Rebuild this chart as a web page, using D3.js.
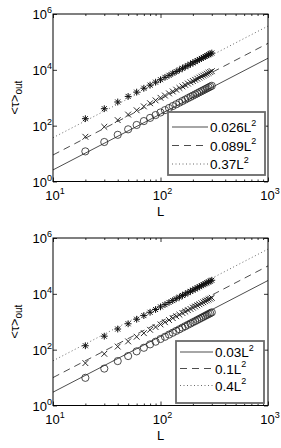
<!DOCTYPE html>
<html>
<head>
<meta charset="utf-8">
<script src="https://cdn.jsdelivr.net/npm/d3@7"></script>
<style>
  body { margin: 0; background: #fff; }
  svg { display: block; }
  text { font-family: "Liberation Sans", Arial, sans-serif; fill: #000; }
</style>
</head>
<body>
<div id="chart"></div>
<script>
// system sizes (same for both panels)
var sizes = [20, 30, 40, 50, 60, 70, 80, 90, 100, 110, 120, 130, 140, 150, 160,
  170, 180, 190, 200, 210, 220, 230, 240, 250, 260, 270, 280, 290, 300];

// top panel
var circlesTop = [12, 26, 47, 74, 106, 146, 190, 240, 297, 360, 428, 503, 583, 670, 762,
  860, 965, 1075, 1190, 1312, 1440, 1575, 1715, 1860, 2012, 2170, 2335, 2505, 2680];
var crossesTop = [40, 91, 158, 250, 356, 490, 635, 805, 995, 1200, 1432, 1680, 1950, 2240, 2550,
  2875, 3225, 3590, 3980, 4390, 4820, 5265, 5735, 6225, 6730, 7260, 7810, 8380, 8960];
var starsTop = [178, 405, 705, 1115, 1590, 2190, 2830, 3610, 4430, 5390, 6370, 7520, 8680, 10000, 11350,
  12850, 14380, 16050, 17750, 19600, 21500, 23500, 25600, 27800, 30000, 32400, 34900, 37400, 40000];
var fitTop = [0.026, 0.089, 0.37];
var legendTop = ["0.026", "0.089", "0.37"];

// bottom panel
var circlesBot = [9.8, 21, 39, 59, 87, 117, 155, 193, 241, 289, 347, 405, 471, 538, 615,
  692, 779, 864, 962, 1055, 1163, 1268, 1384, 1498, 1625, 1748, 1885, 2015, 2165];
var crossesBot = [33, 71, 129, 198, 290, 390, 515, 645, 802, 965, 1155, 1348, 1572, 1795, 2052,
  2305, 2598, 2880, 3208, 3520, 3880, 4225, 4615, 4990, 5415, 5825, 6280, 6720, 7210];
var starsBot = [138, 304, 548, 846, 1230, 1660, 2185, 2745, 3410, 4100, 4910, 5730, 6680, 7630, 8720,
  9800, 11030, 12250, 13620, 14960, 16480, 17950, 19610, 21200, 23020, 24750, 26700, 28550, 30650];
var fitBot = [0.03, 0.1, 0.4];
var legendBot = ["0.03", "0.1", "0.4"];

var xMajor = [10, 100, 1000];
var xMinor = [20, 30, 40, 50, 60, 70, 80, 90, 200, 300, 400, 500, 600, 700, 800, 900];
var yMajor = [1, 1e2, 1e4, 1e6];

var W = 281, H = 448;
var svg = d3.select("#chart").append("svg").attr("width", W).attr("height", H);

var left = 53, right = 268;
var x = d3.scaleLog().domain([10, 1000]).range([left, right]);

var styles = [
  { dash: null, color: "#000", width: 0.7 },
  { dash: "7,5", color: "#000", width: 0.7 },
  { dash: "1,2.5", color: "#444", width: 0.8 }
];

function drawPanel(top, bottom, series, fits, labels, lg) {
  var y = d3.scaleLog().domain([1, 1e6]).range([bottom, top]);
  var g = svg.append("g");

  // fit lines
  var line = d3.line().x(function (d) { return x(d[0]); }).y(function (d) { return y(d[1]); });
  fits.forEach(function (a, i) {
    var pts = [10, 1000].map(function (L) { return [L, a * L * L]; });
    g.append("path").attr("d", line(pts))
      .attr("fill", "none")
      .attr("stroke", styles[i].color)
      .attr("stroke-width", styles[i].width)
      .attr("stroke-dasharray", styles[i].dash);
  });

  // circles
  g.selectAll(".c").data(series[0]).enter().append("circle")
    .attr("cx", function (d, i) { return x(sizes[i]); })
    .attr("cy", function (d) { return y(d); })
    .attr("r", 3.6)
    .attr("fill", "none").attr("stroke", "#222").attr("stroke-width", 0.8);

  // crosses
  var s = 2.9;
  g.selectAll(".x").data(series[1]).enter().append("path")
    .attr("d", function (d, i) {
      var cx = x(sizes[i]), cy = y(d);
      return "M" + (cx - s) + "," + (cy - s) + "L" + (cx + s) + "," + (cy + s) +
        "M" + (cx - s) + "," + (cy + s) + "L" + (cx + s) + "," + (cy - s);
    })
    .attr("stroke", "#111").attr("stroke-width", 0.9);

  // stars
  g.selectAll(".s").data(series[2]).enter().append("path")
    .attr("d", function (d, i) {
      var cx = x(sizes[i]), cy = y(d), t = 3.4, u = 2.5;
      return "M" + (cx - t) + "," + cy + "L" + (cx + t) + "," + cy +
        "M" + cx + "," + (cy - t) + "L" + cx + "," + (cy + t) +
        "M" + (cx - u) + "," + (cy - u) + "L" + (cx + u) + "," + (cy + u) +
        "M" + (cx - u) + "," + (cy + u) + "L" + (cx + u) + "," + (cy - u);
    })
    .attr("stroke", "#111").attr("stroke-width", 1);

  // box
  g.append("rect").attr("x", left).attr("y", top)
    .attr("width", right - left).attr("height", bottom - top)
    .attr("fill", "none").attr("stroke", "#000").attr("stroke-width", 1);

  // ticks, pointing inwards on all four sides
  function tickGroup(axis, tx, ty) {
    var a = g.append("g").attr("transform", "translate(" + tx + "," + ty + ")").call(axis);
    a.select(".domain").remove();
    a.selectAll("line").attr("stroke", "#000").attr("stroke-width", 0.8);
    a.selectAll("text").remove();
  }
  tickGroup(d3.axisBottom(x).tickValues(xMajor).tickSizeInner(-4).tickSizeOuter(0), 0, bottom);
  tickGroup(d3.axisBottom(x).tickValues(xMinor).tickSizeInner(-2).tickSizeOuter(0), 0, bottom);
  tickGroup(d3.axisTop(x).tickValues(xMajor).tickSizeInner(-4).tickSizeOuter(0), 0, top);
  tickGroup(d3.axisTop(x).tickValues(xMinor).tickSizeInner(-2).tickSizeOuter(0), 0, top);
  tickGroup(d3.axisLeft(y).tickValues(yMajor).tickSizeInner(-4).tickSizeOuter(0), left, 0);
  tickGroup(d3.axisRight(y).tickValues(yMajor).tickSizeInner(-4).tickSizeOuter(0), right, 0);

  // tick labels: 10 with exponent
  xMajor.forEach(function (v) {
    var t = g.append("text").attr("x", x(v) + 2).attr("y", bottom + 18)
      .attr("text-anchor", "middle").style("font-size", "13px");
    t.append("tspan").text("10");
    t.append("tspan").attr("dy", -6).style("font-size", "9px").text(Math.round(Math.log10(v)));
  });
  yMajor.forEach(function (v) {
    var t = g.append("text").attr("x", left - 1).attr("y", y(v) + 5)
      .attr("text-anchor", "end").style("font-size", "13px");
    t.append("tspan").text("10");
    t.append("tspan").attr("dy", -6).style("font-size", "9px").text(Math.round(Math.log10(v)));
  });

  // axis titles
  g.append("text").attr("x", (left + right) / 2).attr("y", bottom + 34)
    .attr("text-anchor", "middle").style("font-size", "13px").text("L");
  var yl = g.append("text")
    .attr("transform", "translate(19," + ((top + bottom) / 2) + ") rotate(-90)")
    .attr("text-anchor", "middle").style("font-size", "13px");
  yl.append("tspan").text("<τ>");
  yl.append("tspan").attr("dy", 3).style("font-size", "10px").text("out");

  // legend
  g.append("rect").attr("x", lg.x).attr("y", lg.y).attr("width", lg.w).attr("height", lg.h)
    .attr("fill", "#fff").attr("stroke", "#6a6a6a").attr("stroke-width", 1.8);
  labels.forEach(function (lab, i) {
    var ry = lg.rows[i];
    g.append("line").attr("x1", lg.x + 4).attr("x2", lg.x + lg.line)
      .attr("y1", ry).attr("y2", ry)
      .attr("stroke", styles[i].color).attr("stroke-width", styles[i].width)
      .attr("stroke-dasharray", styles[i].dash);
    var t = g.append("text").attr("x", lg.x + lg.line + 2).attr("y", ry + 5)
      .style("font-size", "13.5px");
    t.append("tspan").text(lab + "L");
    t.append("tspan").attr("dy", -6.5).style("font-size", "9px").text("2");
  });
}

drawPanel(14, 181.5, [circlesTop, crossesTop, starsTop], fitTop, legendTop,
  { x: 168, y: 112, w: 97, h: 63, line: 40, rows: [127, 145.5, 164] });
drawPanel(238, 405.5, [circlesBot, crossesBot, starsBot], fitBot, legendBot,
  { x: 176, y: 341, w: 88, h: 62, line: 37, rows: [352, 368.5, 385.5] });
</script>
</body>
</html>
